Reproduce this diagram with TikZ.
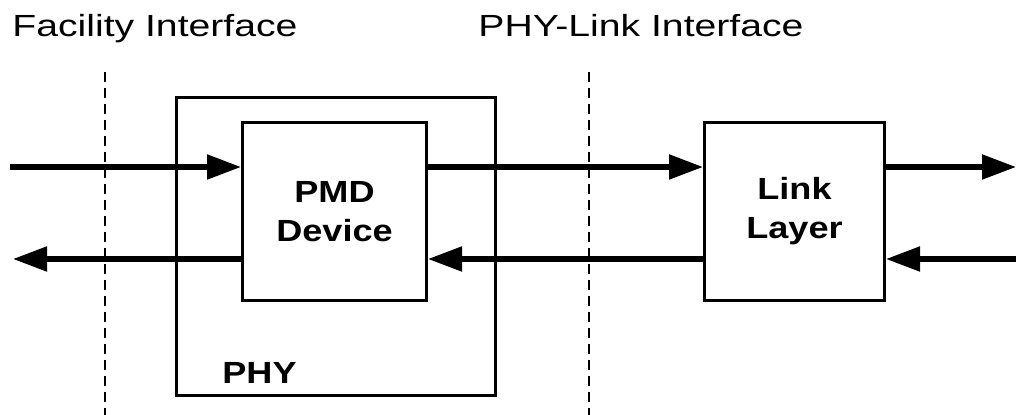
\documentclass[tikz,border=0pt]{standalone}
\usepackage{fontspec}
\setmainfont{Liberation Sans}[FakeStretch=1.28,BoldFeatures={FakeStretch=1.18}]
\usetikzlibrary{arrows.meta}

\begin{document}
\begin{tikzpicture}[x=0.5pt,y=-0.5pt,
		box/.style={draw,line width=1.5pt,inner sep=0pt},
		flow/.style={line width=2.6pt,-{Triangle[length=17pt,width=12pt]}},
		border/.style={line width=0.75pt,dash pattern=on 5pt off 3pt},
		txt/.style={inner sep=0pt,font=\fontsize{15.3}{19.5}\selectfont},
		boldtxt/.style={font=\fontsize{15.3}{19.5}\selectfont\bfseries,align=center}]
		\useasboundingbox (0,0) rectangle (1016,415);
		%interfaces
			\node[txt,anchor=base west] (facility) at (12,37) {Facility Interface};
			\node[txt,anchor=base west] (phylink) at (478,37) {PHY-Link Interface};
			\foreach \x in {105, 589}{
				\draw[border] (\x,72) -- (\x,415);
			}
		%boxes
			\node[box,minimum width=159.5pt,minimum height=149pt] (phy) at (336,246.5){};
			\node[txt,anchor=base west,font=\fontsize{15.3}{19.5}\selectfont\bfseries] (phylabel) at (222,384){PHY};
			\node[box,boldtxt,minimum width=92pt,minimum height=89pt] (pmd) at (334.5,211.5){PMD\\Device};
			\node[box,boldtxt,minimum width=90pt,minimum height=89pt] (link) at (794.5,211.5){Link\\Layer};
		%free ends
			\coordinate (inL) at (10,167);
			\coordinate (outL) at (13,259);
			\coordinate (outR) at (1016,167);
			\coordinate (inR) at (1016,259);
		%signals
			\draw[flow] (inL) -- (pmd.west |- inL);
			\draw[flow] (pmd.west |- outL) -- (outL);
			\draw[flow] (pmd.east |- inL) -- (link.west |- inL);
			\draw[flow] (link.west |- outL) -- (pmd.east |- outL);
			\draw[flow] (link.east |- outR) -- (outR);
			\draw[flow] (inR) -- (link.east |- inR);
		\end{tikzpicture}
\end{document}
